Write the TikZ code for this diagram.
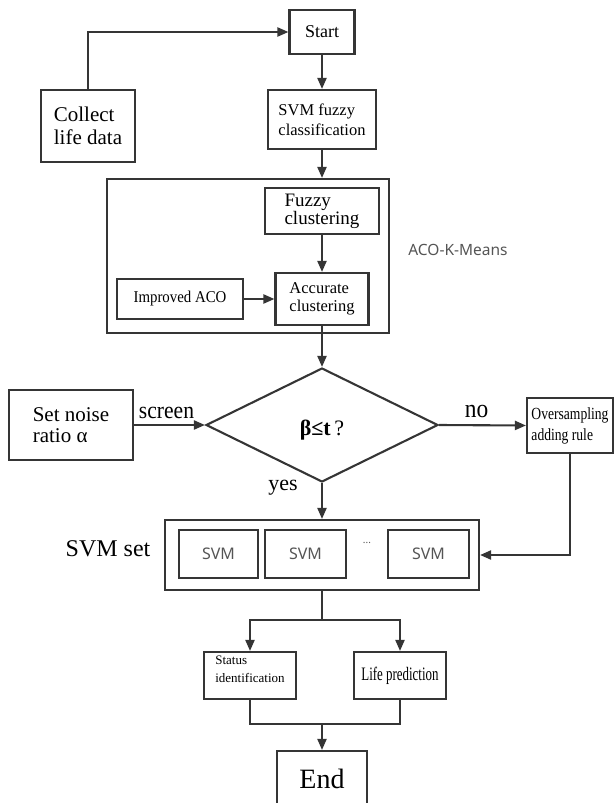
\documentclass[tikz,border=0pt]{standalone}
\usepackage{fontspec}
\setmainfont{Liberation Serif}
\newfontfamily\sansui{Noto Sans}
\usetikzlibrary{arrows.meta,shapes.geometric}
\definecolor{lc}{HTML}{353535}
\definecolor{gt}{HTML}{555555}
\newcommand{\fs}[2]{\fontsize{#1}{#2}\selectfont}
\tikzset{
  box/.style={draw=lc, line width=2.1pt, inner sep=0pt, align=left, text=black},
  arr/.style={-{Triangle[length=11pt,width=9pt]}, draw=lc, line width=2.1pt},
  ln/.style={draw=lc, line width=2.1pt},
  lbl/.style={inner sep=0pt, text=black},
}
\begin{document}
\begin{tikzpicture}[x=1pt,y=-1pt]
\useasboundingbox (0,0) rectangle (614,803);
% top
\node[box, minimum width=65pt, minimum height=44pt, font=\fs{18}{20}] (start) at (322,32) {Start};
\node[box, minimum width=94pt, minimum height=72pt, font=\fs{21}{23}] (collect) at (88,126) {Collect\\life data};
\node[box, minimum width=108pt, minimum height=59pt, font=\fs{16.5}{20}] (svmfc) at (322,119.5) {SVM fuzzy\\classification};
% ACO-K-Means group
\node[box, minimum width=282pt, minimum height=154pt] (aco) at (248,256) {};
\node[box, minimum width=114pt, minimum height=46pt, font=\fs{19}{18}] (fuzzy) at (322,211) {Fuzzy\\clustering};
\node[box, minimum width=93pt, minimum height=52pt, font=\fs{16.5}{18}] (accurate) at (322,299) {Accurate\\clustering};
\node[box, minimum width=126pt, minimum height=40pt, font=\fs{16.5}{18}] (improved) at (180,299) {\scalebox{0.9}[1]{Improved ACO}};
\node[lbl, text=gt, font=\sansui\fs{15.5}{18}] (acolbl) at (458,250) {ACO-K-Means};
% decision
\node[box, diamond, minimum width=232pt, minimum height=114pt, align=center] (dia) at (322,425) {};
\node[lbl, font=\fs{22}{24}] (cond) at (322,430) {\textbf{β≤t}\,?};
\node[box, minimum width=124pt, minimum height=70pt, font=\fs{21}{21.5}] (noise) at (71,425) {Set noise\\ratio α};
\node[box, minimum width=86pt, minimum height=55pt, font=\fs{17}{21}] (over) at (570,425.5) {\scalebox{0.8}[1]{Oversampling}\\\scalebox{0.8}[1]{adding rule}};
% SVM set
\node[box, minimum width=314pt, minimum height=70pt] (svmset) at (322,555) {};
\node[box, minimum width=79pt, minimum height=48pt, text=gt, font=\sansui\fs{16}{18}] (s1) at (218.5,554) {SVM};
\node[box, minimum width=81pt, minimum height=48pt, text=gt, font=\sansui\fs{16}{18}] (s2) at (305.5,554) {SVM};
\node[box, minimum width=81pt, minimum height=48pt, text=gt, font=\sansui\fs{16}{18}] (s3) at (428.5,554) {SVM};
\node[lbl, text=gt, font=\sansui\fs{10}{10}] (dots) at (367,543) {\textbf{...}};
\node[lbl, font=\fs{24}{26}] (setlbl) at (108,549) {SVM set};
% outputs
\node[box, minimum width=92pt, minimum height=47pt, font=\fs{13}{18}] (status) at (250,675.5) {Status\\identification\\[-6pt]};
\node[box, minimum width=92pt, minimum height=47pt, font=\fs{19}{20}] (life) at (400,675.5) {\scalebox{0.68}[1]{Life prediction}};
\node[box, minimum width=90pt, minimum height=56pt, font=\fs{28}{30}] (end) at (322,779) {End};
% connectors
\draw[arr] (collect.north) |- (start.west);
\draw[arr] (start.south) -- (svmfc.north);
\draw[arr] (svmfc.south) -- (svmfc.south |- aco.north);
\draw[arr] (fuzzy.south) -- (fuzzy.south |- accurate.north);
\draw[arr] (improved.east) -- (accurate.west);
\draw[arr] (accurate.south) -- (dia.north);
\draw[arr] (noise.east) -- node[lbl, above=5pt, xshift=-3pt, font=\fs{24}{26}] (screen) {\scalebox{0.9}[1]{screen}} (dia.west);
\draw[arr] (dia.east) -- node[lbl, above=6pt, xshift=-6pt, font=\fs{26}{28}] (no) {\scalebox{0.9}[1]{no}} (over.west);
\draw[arr] (dia.south) -- (svmset.north);
\node[lbl, font=\fs{22}{24}] (yes) at (283,488) {yes};
\draw[arr] (over.south) |- (svmset.east);
\coordinate (j1) at (322,620);
\draw[ln] (svmset.south) -- (j1);
\draw[arr] (j1) -| (status.north);
\draw[arr] (j1) -| (life.north);
\coordinate (j2) at (322,724);
\draw[ln] (status.south) |- (j2) -| (life.south);
\draw[arr] (j2) -- (end.north);
\end{tikzpicture}
\end{document}
